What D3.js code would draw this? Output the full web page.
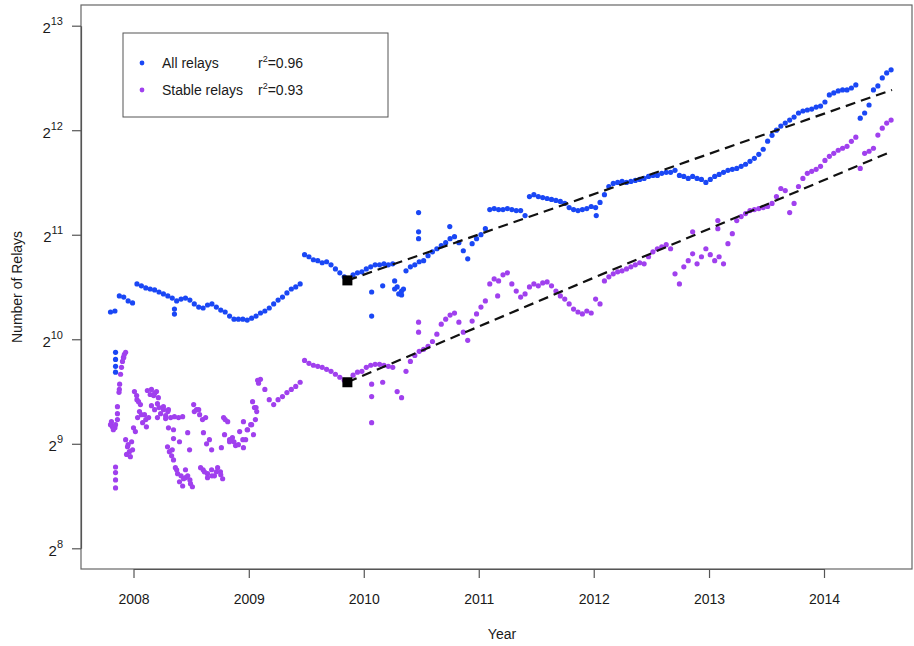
<!DOCTYPE html>
<html>
<head>
<meta charset="utf-8">
<script src="https://cdn.jsdelivr.net/npm/d3@7"></script>
<style>
  body { margin: 0; background: #fff; }
  svg { display: block; }
  text { font-family: "Liberation Sans", Arial, Helvetica, sans-serif; fill: #1a1a1a; }
</style>
</head>
<body>
<svg id="chart" width="914" height="646"></svg>
<script>
// ---- Data: Tor relay counts, one sample every 14 days from 2007-10-20 ----
const sampleStart = "2007-10-20";
const sampleStepDays = 14;

const allRelays = [
  1227,1235,1365,1355,1320,1303,1478,1459,1439,1429,
  1420,1401,1383,1365,1346,1320,1337,1346,1328,1294,
  1268,1260,1285,1294,1268,1243,1227,1194,1170,1170,
  1170,1163,1178,1194,1219,1235,1260,1294,1328,1355,
  1392,1429,1449,1478,1794,1770,1735,1724,1701,1712,
  1678,1633,1591,1549,1518,1570,1591,1601,1633,1656,
  1678,1678,1689,1678,1689,1449,1410,1612,1656,1678,
  1712,1724,1782,1829,1866,1905,1943,1995,2022,1943,
  1842,1746,1930,1995,2049,2132,2420,2436,2420,2420,
  2436,2420,2404,2404,2326,2638,2672,2638,2621,2604,
  2588,2571,2554,2520,2453,2420,2404,2420,2436,2470,
  2453,2537,2672,2820,2879,2898,2917,2898,2917,2936,
  2955,2975,3015,3035,3035,3077,3098,3098,3139,3035,
  3015,2975,3015,2975,2955,2898,2955,3015,3056,3098,
  3139,3160,3180,3224,3268,3333,3399,3491,3610,3809,
  3960,4098,4209,4295,4380,4469,4591,4653,4683,4713,
  4775,4807,4939,5175,5245,5315,5351,5351,5420,5532,
  4438,4591,4842,5351,5495,5794,5991,6113
];

const stableRelays = [
  581,569,734,908,509,492,686,621,601,710,
  715,651,642,634,492,431,414,409,403,634,
  642,431,420,414,425,417,601,526,519,509,
  526,562,581,651,785,734,686,664,686,700,
  719,734,749,770,890,873,862,856,850,839,
  828,812,796,780,770,807,823,828,850,862,
  867,867,862,856,850,724,695,828,884,920,
  945,958,977,1009,1059,1132,1170,1202,1218,1147,
  1073,1017,1155,1211,1268,1320,1478,1528,1508,1570,
  1591,1478,1410,1355,1383,1449,1478,1459,1488,1498,
  1459,1410,1365,1337,1294,1251,1227,1211,1235,1219,
  1337,1294,1508,1549,1580,1601,1612,1633,1656,1678,
  1701,1689,1770,1829,1866,1891,1917,1866,1580,1478,
  1656,1724,1805,1689,1770,1866,1794,1724,1770,1689,
  1930,2063,2249,2310,2357,2404,2420,2436,2453,2470,
  2520,2638,2783,2745,2372,2520,2820,2975,3077,3118,
  3160,3224,3352,3445,3515,3587,3634,3682,3804,3911,
  3180,3515,3563,3634,3965,4152,4295,4380
];

// Additional daily readings that fall away from the sampled path
const allExtra = [
  ["2007-11-05",939],["2007-11-05",896],["2007-11-05",856],["2007-11-05",823],
  ["2008-05-10",1251],["2008-05-10",1210],
  ["2010-01-26",1401],["2010-01-26",1194],["2010-03-02",1459],
  ["2010-04-09",1508],["2010-04-09",1429],["2010-04-22",1383],["2010-05-01",1374],["2010-05-07",1429],
  ["2010-06-24",2372],["2010-06-24",2088],["2010-06-24",1995],
  ["2010-10-01",2162],["2012-01-09",2326]
];

const stableExtra = [
  ["2007-11-16",720],["2007-11-18",760],["2007-11-21",812],["2007-11-24",850],
  ["2007-11-27",884],["2007-11-30",908],["2007-12-03",927],["2007-12-07",939],
  ["2007-11-11",655],["2007-11-11",625],["2007-11-11",601],
  ["2007-10-23",593],["2007-10-26",573],["2007-10-29",562],["2007-11-05",581],
  ["2007-11-05",439],["2007-11-05",423],["2007-11-05",403],["2007-11-05",382],
  ["2007-12-07",526],["2007-12-13",502],["2007-12-19",486],["2007-12-22",470],["2007-12-10",477],["2007-12-26",519],
  ["2008-01-01",569],["2008-01-07",555],
  ["2008-01-04",724],["2008-01-11",705],["2008-01-17",677],["2008-01-23",664],
  ["2008-01-14",609],["2008-01-20",634],["2008-01-30",589],["2008-02-05",621],["2008-02-11",573],["2008-02-18",609],
  ["2008-02-14",729],["2008-02-27",734],["2008-03-05",705],["2008-03-14",724],["2008-03-20",695],
  ["2008-02-27",659],["2008-03-08",642],["2008-03-17",668],["2008-03-27",625],["2008-04-05",655],["2008-04-12",617],["2008-04-21",642],
  ["2008-03-17",609],["2008-04-12",605],["2008-04-28",609],["2008-05-10",613],["2008-05-23",609],["2008-06-05",613],
  ["2008-04-21",569],["2008-05-07",562],
  ["2008-04-18",502],["2008-04-24",486],["2008-05-01",473],["2008-05-07",460],
  ["2008-05-13",437],["2008-05-20",420],["2008-05-26",398],["2008-06-05",387],["2008-06-14",431],
  ["2008-06-21",414],["2008-06-30",393],["2008-07-06",385],["2008-06-08",406],
  ["2008-05-07",530],["2008-05-26",519],["2008-06-21",551],["2008-06-27",492],
  ["2008-07-10",664],["2008-07-19",642],["2008-07-29",621],["2008-08-07",601],["2008-08-17",609],
  ["2008-08-01",437],["2008-08-13",425],["2008-08-23",409],["2008-09-05",431],["2008-09-14",414],
  ["2008-09-24",437],["2008-10-03",425],["2008-10-10",406],
  ["2008-08-10",551],["2008-08-20",512],["2008-08-29",526],["2008-09-05",492],["2008-10-06",499],
  ["2008-10-13",609],["2008-10-26",593],
  ["2008-10-16",544],["2008-11-01",519],["2008-11-10",533],["2008-11-20",506],["2008-12-03",555],["2008-12-15",499],["2008-12-22",526],
  ["2008-12-15",593],["2008-12-28",562],["2009-01-07",581],["2009-01-16",544],["2009-01-22",601],
  ["2009-01-13",677],["2009-01-19",651],["2009-01-26",634],["2009-01-29",780],["2009-02-01",765],
  ["2010-01-26",760],["2010-01-26",700],["2010-01-26",589],["2010-03-02",770],
  ["2010-06-24",1147],["2010-06-24",1073],["2011-03-02",1365],
  ["2012-11-10",2088],["2013-01-29",2249],["2013-01-29",2132]
];

// Exponential fits (straight on the log axis), from the marked start date
const fitDates = ["2009-11-10", "2014-08-05"];
const allFit = [1513, 5351];
const stableFit = [770, 3563];

const yearTicks = [2008, 2009, 2010, 2011, 2012, 2013, 2014];
const yExponents = [8, 9, 10, 11, 12, 13];

const seriesNames = ["All relays", "Stable relays"];
const rSquared = ["0.96", "0.93"];
const seriesColors = ["#1a47f5", "#a040ee"];

// ---- Layout ----
const svg = d3.select("#chart");
const box = { left: 81, top: 5, right: 912, bottom: 569 };
const parse = d3.timeParse("%Y-%m-%d");

const x = d3.scaleTime()
  .domain([new Date(2008, 0, 1), new Date(2014, 0, 1)])
  .range([133.5, 824]);
const y = d3.scaleLog().base(2)
  .domain([2 ** 8, 2 ** 13])
  .range([548.3, 25.7]);

const start = parse(sampleStart);
const sampleDate = i => d3.timeDay.offset(start, sampleStepDays * i);

// plot frame
svg.append("rect")
  .attr("x", box.left).attr("y", box.top)
  .attr("width", box.right - box.left).attr("height", box.bottom - box.top)
  .attr("fill", "none").attr("stroke", "#666").attr("stroke-width", 1.2);

// x axis
const xAxis = svg.append("g")
  .attr("transform", `translate(0,${box.bottom})`)
  .call(d3.axisBottom(x)
    .tickValues(yearTicks.map(yr => new Date(yr, 0, 1)))
    .tickFormat(d3.timeFormat("%Y"))
    .tickSize(9).tickSizeOuter(0).tickPadding(16));
xAxis.selectAll("path, line").attr("stroke", "#555").attr("stroke-width", 1.2);
xAxis.selectAll("text").attr("font-size", 14).attr("fill", "#1a1a1a")
  .attr("font-family", "Liberation Sans, Arial, sans-serif");

// y axis with 2^n labels
const yAxis = svg.append("g")
  .attr("transform", `translate(${box.left},0)`)
  .call(d3.axisLeft(y)
    .tickValues(yExponents.map(e => 2 ** e))
    .tickSize(9).tickSizeOuter(0).tickFormat(""));
yAxis.selectAll("path, line").attr("stroke", "#555").attr("stroke-width", 1.2);
yAxis.selectAll(".tick").each(function (d) {
  const t = d3.select(this).append("text")
    .attr("x", -18).attr("y", 7)
    .attr("text-anchor", "end")
    .attr("font-size", 15)
    .attr("fill", "#1a1a1a");
  t.append("tspan").text("2");
  t.append("tspan").attr("dy", -8).attr("font-size", 11).text(Math.round(Math.log2(d)));
});

// axis titles
svg.append("text")
  .attr("x", 502).attr("y", 639)
  .attr("text-anchor", "middle").attr("font-size", 14)
  .text("Year");
svg.append("text")
  .attr("transform", "translate(22,287) rotate(-90)")
  .attr("text-anchor", "middle").attr("font-size", 14)
  .text("Number of Relays");

// points
const r = 2.6;
function drawSeries(values, extra, color) {
  const g = svg.append("g").attr("fill", color);
  g.selectAll("circle.s").data(values).join("circle")
    .attr("class", "s")
    .attr("cx", (d, i) => x(sampleDate(i)))
    .attr("cy", d => y(d))
    .attr("r", r);
  g.selectAll("circle.e").data(extra).join("circle")
    .attr("class", "e")
    .attr("cx", d => x(parse(d[0])))
    .attr("cy", d => y(d[1]))
    .attr("r", r);
}
drawSeries(stableRelays, stableExtra, seriesColors[1]);
drawSeries(allRelays, allExtra, seriesColors[0]);

// fitted trends
const fitLine = d3.line().x(d => x(parse(d[0]))).y(d => y(d[1]));
[allFit, stableFit].forEach(fit => {
  const pts = fitDates.map((dt, i) => [dt, fit[i]]);
  svg.append("path")
    .attr("d", fitLine(pts))
    .attr("fill", "none").attr("stroke", "#111")
    .attr("stroke-width", 2.2).attr("stroke-dasharray", "10,6");
  svg.append("path")
    .attr("d", d3.symbol(d3.symbolSquare, 100)())
    .attr("transform", `translate(${x(parse(fitDates[0]))},${y(fit[0])})`)
    .attr("fill", "#000");
});

// legend
const lg = svg.append("g");
lg.append("rect")
  .attr("x", 123).attr("y", 33).attr("width", 265).attr("height", 84)
  .attr("fill", "#fff").attr("stroke", "#555").attr("stroke-width", 1);
seriesNames.forEach((name, i) => {
  const cy = 63 + i * 27;
  lg.append("circle").attr("cx", 142).attr("cy", cy).attr("r", 2.4).attr("fill", seriesColors[i]);
  lg.append("text").attr("x", 162).attr("y", cy + 5).attr("font-size", 14).text(name);
  const t = lg.append("text").attr("x", 258).attr("y", cy + 5).attr("font-size", 14);
  t.append("tspan").text("r");
  t.append("tspan").attr("dy", -6).attr("font-size", 9).text("2");
  t.append("tspan").attr("dy", 6).text("=" + rSquared[i]);
});
</script>
</body>
</html>
